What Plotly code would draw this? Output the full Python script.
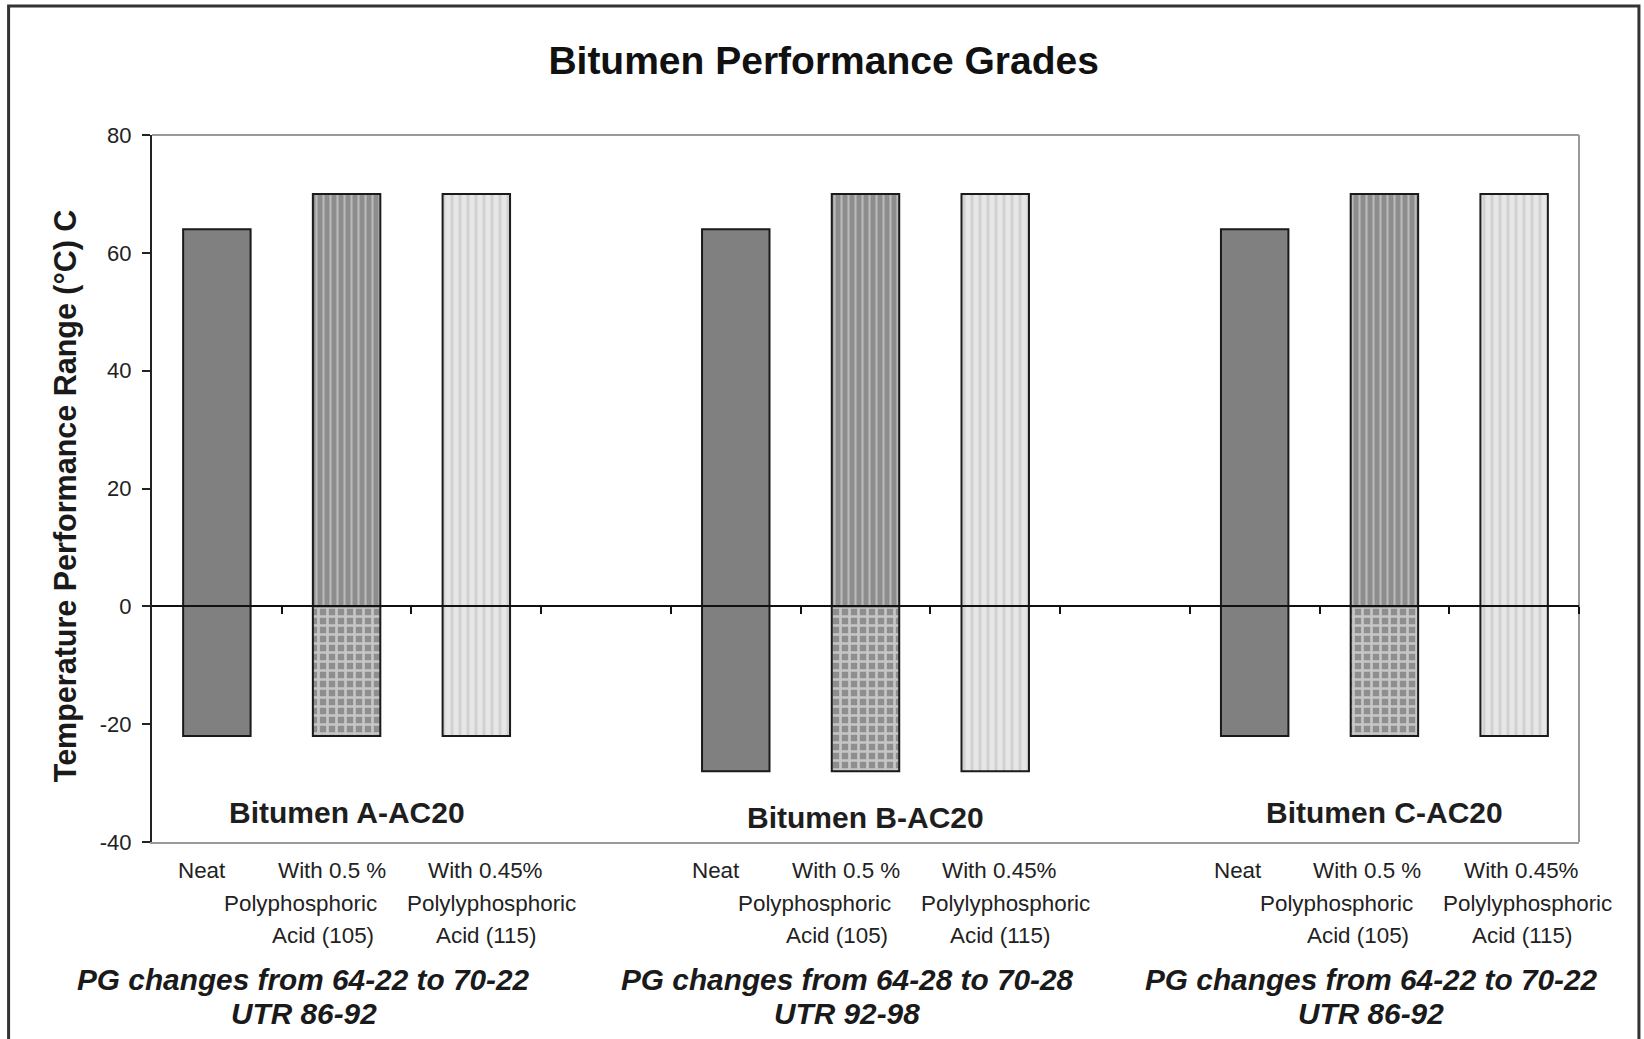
import plotly.graph_objects as go

# ---- data -------------------------------------------------------------
groups = ["Bitumen A-AC20", "Bitumen B-AC20", "Bitumen C-AC20"]
treatments = [
    "Neat",
    "With 0.5 %<br>Polyphosphoric<br>Acid (105)",
    "With 0.45%<br>Polylyphosphoric<br>Acid (115)",
]

# high / low temperature grade limits (°C) per bitumen
neat_high = [64, 64, 64]
neat_low = [-22, -28, -22]
ppa105_high = [70, 70, 70]
ppa105_low = [-22, -28, -22]
ppa115_high = [70, 70, 70]
ppa115_low = [-22, -28, -22]

pg_change = [
    "PG changes from 64-22 to 70-22",
    "PG changes from 64-28 to 70-28",
    "PG changes from 64-22 to 70-22",
]
utr_range = ["UTR 86-92", "UTR 92-98", "UTR 86-92"]

y_ticks = [-40, -20, 0, 20, 40, 60, 80]

# ---- layout helpers ---------------------------------------------------
SLOTS_PER_GROUP = 4          # three bars + one empty spacer slot
N_SLOTS = SLOTS_PER_GROUP * len(groups) - 1
BAR_W = 0.52
FONT = "Liberation Sans, Arial, sans-serif"
OUTLINE = dict(color="#1a1a1a", width=2)


def slot(g, t):
    return g * SLOTS_PER_GROUP + t


def pos(t):
    return [slot(g, t) for g in range(len(groups))]


fig = go.Figure()

# Neat binder: solid grey floating bar
fig.add_trace(go.Bar(
    x=pos(0), base=neat_low,
    y=[h - l for h, l in zip(neat_high, neat_low)],
    width=BAR_W, marker=dict(color="#808080", line=OUTLINE),
    name=treatments[0], showlegend=False,
))

# 0.5 % PPA: striped above zero, checkered below
fig.add_trace(go.Bar(
    x=pos(1), base=[0] * len(groups), y=ppa105_high,
    width=BAR_W,
    marker=dict(color="#8d8d8d", line=OUTLINE,
                pattern=dict(shape="|", bgcolor="#8d8d8d", fgcolor="#bababa",
                             size=7, solidity=0.3, fillmode="replace")),
    showlegend=False,
))
fig.add_trace(go.Bar(
    x=pos(1), base=ppa105_low, y=[-l for l in ppa105_low],
    width=BAR_W,
    marker=dict(color="#999999", line=OUTLINE,
                pattern=dict(shape="+", bgcolor="#8e8e8e", fgcolor="#c6c6c6",
                             size=9, solidity=0.5, fillmode="replace")),
    showlegend=False,
))

# 0.45 % PPA: light grey with faint stripes
fig.add_trace(go.Bar(
    x=pos(2), base=ppa115_low,
    y=[h - l for h, l in zip(ppa115_high, ppa115_low)],
    width=BAR_W,
    marker=dict(color="#e6e6e6", line=OUTLINE,
                pattern=dict(shape="|", bgcolor="#e6e6e6", fgcolor="#d0d0d0",
                             size=8, solidity=0.35, fillmode="replace")),
    showlegend=False,
))

# carrier for the zero-line axis
fig.add_trace(go.Scatter(
    x=list(range(N_SLOTS)), y=[None] * N_SLOTS, xaxis="x2", yaxis="y",
    mode="markers", marker=dict(opacity=0), hoverinfo="skip", showlegend=False,
))

annotations = []

# bitumen names inside the plot
for g, name in enumerate(groups):
    annotations.append(dict(
        x=slot(g, 1), y=-35 if g != 1 else -35.8, xref="x", yref="y",
        text=name, showarrow=False, yanchor="middle",
        font=dict(family=FONT, size=30, color="#1e1e1e", weight="bold"),
    ))

# treatment labels under the axis, one line at a time
line_y = [-0.040, -0.087, -0.132]
line_shift = {0: [-15], 1: [-15, -46, -24], 2: [9, 15, 10]}
group_shift = [0, -5, -2]
for g in range(len(groups)):
    for t, label in enumerate(treatments):
        for k, part in enumerate(label.split("<br>")):
            annotations.append(dict(
                x=slot(g, t), y=line_y[k], xref="x", yref="paper",
                xshift=line_shift[t][k] + group_shift[g],
                text=part, showarrow=False, yanchor="middle",
                font=dict(family=FONT, size=22.4, color="#222222"),
            ))

# PG change notes
note_x = [0.67, 4.86, 8.90]
for g in range(len(groups)):
    for k, txt in enumerate([pg_change[g], utr_range[g]]):
        annotations.append(dict(
            x=note_x[g], y=[-0.195, -0.243][k], xref="x", yref="paper",
            text=txt, showarrow=False, yanchor="middle",
            font=dict(family=FONT, size=29.8, color="#1a1a1a",
                      weight="bold", style="italic"),
        ))

# y-axis title
annotations.append(dict(
    x=-0.0605, y=0.49, xref="paper", yref="paper", textangle=-90,
    text="Temperature Performance Range (°C) C", showarrow=False,
    xanchor="center", yanchor="middle",
    font=dict(family=FONT, size=30.5, color="#1a1a1a", weight="bold"),
))

shapes = [
    # outer chart frame
    dict(type="rect", xref="paper", yref="paper",
         x0=-0.1005, x1=1.042, y0=-0.30, y1=1.1825,
         line=dict(color="#333333", width=3), layer="below"),
    # plot-area border (top / right)
    dict(type="line", xref="paper", yref="paper", x0=0, x1=1, y0=1, y1=1,
         line=dict(color="#9a9a9a", width=2), layer="below"),
    dict(type="line", xref="paper", yref="paper", x0=1, x1=1, y0=0, y1=1,
         line=dict(color="#9a9a9a", width=2), layer="below"),
]

x_range = [-0.5, N_SLOTS - 0.5]

fig.update_layout(
    width=1644, height=1039,
    margin=dict(l=152, r=65, t=135, b=197),
    paper_bgcolor="white", plot_bgcolor="white",
    barmode="overlay",
    title=dict(text="<b>Bitumen Performance Grades</b>", x=0.501, xanchor="center",
               y=1 - 60 / 1039, yanchor="middle",
               font=dict(family=FONT, size=39, color="#111111")),
    xaxis=dict(range=x_range, showticklabels=False, ticks="", showgrid=False,
               zeroline=False, showline=True, linecolor="#9a9a9a", linewidth=2),
    xaxis2=dict(range=x_range, overlaying="x", anchor="free", position=1 / 3,
                showticklabels=False, showgrid=False, zeroline=False,
                showline=True, linecolor="#111111", linewidth=2,
                ticks="outside", ticklen=7, tickwidth=2, tickcolor="#111111",
                tickvals=[i + 0.5 for i in range(N_SLOTS)]),
    yaxis=dict(range=[-40, 80], tickvals=y_ticks,
               ticktext=[str(v) for v in y_ticks],
               showgrid=False, zeroline=False,
               showline=True, linecolor="#222222", linewidth=2,
               ticks="outside", ticklen=8, tickwidth=2, tickcolor="#222222",
               ticklabelstandoff=6,
               tickfont=dict(family=FONT, size=22, color="#222222")),
    annotations=annotations,
    shapes=shapes,
    showlegend=False,
)

fig.write_html("out.html")
